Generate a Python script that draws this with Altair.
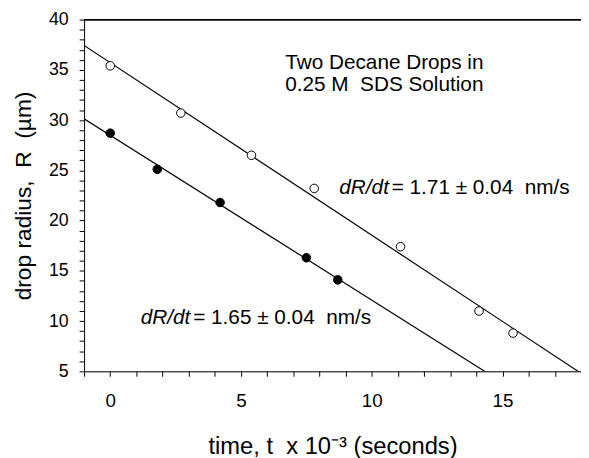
import altair as alt
import pandas as pd

# --- data ---
t_open = [0.0, 2.7, 5.4, 7.8, 11.1, 14.1, 15.4]
r_open = [35.4, 30.7, 26.5, 23.2, 17.4, 11.0, 8.8]
t_filled = [0.0, 1.8, 4.2, 7.5, 8.7]
r_filled = [28.7, 25.1, 21.8, 16.3, 14.1]

x_ticks = list(range(-1, 19))
y_ticks = list(range(5, 41))

NB = "\u00a0"
slope_t = [8.76, 1.17]
slope_r = [23.2, 10.3]
slope_italic = ["dR/dt", "dR/dt"]
slope_rest = ["= 1.71 ± 0.04 " + NB + "nm/s", "= 1.65 ± 0.04 " + NB + "nm/s"]

title_t = [6.69, 6.69]
title_r = [35.67, 33.5]
title_lines = ["Two Decane Drops in", "0.25 M " + NB + "SDS Solution"]

FONT = "Liberation Sans"

df = pd.DataFrame({
    "t": t_open + t_filled,
    "R": r_open + r_filled,
    "drop": ["open"] * len(t_open) + ["filled"] * len(t_filled),
})
ann = pd.DataFrame({"t": slope_t, "R": slope_r, "it": slope_italic, "rest": slope_rest})
ttl = pd.DataFrame({"t": title_t, "R": title_r, "txt": title_lines})

xscale = alt.Scale(domain=[-1, 18], nice=False, zero=False)
yscale = alt.Scale(domain=[5, 40], nice=False, zero=False)

xaxis = alt.Axis(
    values=x_ticks, tickCount=500, format="d",
    labelExpr="datum.value % 5 === 0 ? datum.label : ''",
    labelOverlap=False, labelFlush=False,
    title="time, t " + NB + "x 10⁻³ (seconds)",
    titleFontSize=24, titleFontWeight="normal", titleFont=FONT, titleColor="black",
    titlePadding=24,
    labelFontSize=19, labelFont=FONT, labelColor="black", labelPadding=16,
    tickSize=5, tickColor="black", domainColor="black", grid=False,
)
yaxis = alt.Axis(
    values=y_ticks, tickCount=500, format="d",
    labelExpr="datum.value % 5 === 0 ? datum.label : ''",
    labelOverlap=False, labelFlush=False,
    title="drop radius, " + NB + "R " + NB + "(µm)",
    titleFontSize=23, titleFontWeight="normal", titleFont=FONT, titleColor="black",
    titlePadding=13,
    labelFontSize=18, labelFont=FONT, labelColor="black", labelPadding=11,
    tickSize=5, tickColor="black", domainColor="black", grid=False,
)

X = alt.X("t:Q", scale=xscale, axis=xaxis)
Y = alt.Y("R:Q", scale=yscale, axis=yaxis)

base = alt.Chart(df)

lines = base.transform_regression(
    "t", "R", groupby=["drop"], extent=[-1, 18]
).mark_line(clip=True, color="black", strokeWidth=1.2).encode(x=X, y=Y, detail="drop:N")

points = base.mark_point(
    shape="circle", filled=True, size=75, stroke="black", strokeWidth=1, opacity=1
).encode(
    x=X, y=Y,
    fill=alt.Fill("drop:N", scale=alt.Scale(domain=["open", "filled"], range=["white", "black"]), legend=None),
)

top = alt.Chart(df).mark_rule(color="black", strokeWidth=1).encode(
    x=alt.datum(-1, scale=xscale), x2=alt.datum(18), y=alt.datum(40, scale=yscale)
)

it_text = alt.Chart(ann).mark_text(
    align="left", baseline="middle", fontStyle="italic", fontSize=21, font=FONT, color="black"
).encode(x=X, y=Y, text="it:N")
rest_text = alt.Chart(ann).mark_text(
    align="left", baseline="middle", fontSize=21, font=FONT, color="black", dx=53
).encode(x=X, y=Y, text="rest:N")

title_text = alt.Chart(ttl).mark_text(
    align="left", baseline="middle", fontSize=21, font=FONT, color="black"
).encode(x=X, y=Y, text="txt:N")

chart = alt.layer(lines, points, top, it_text, rest_text, title_text).properties(
    width=503, height=356,
    padding={"left": 77, "top": 9, "right": 0, "bottom": 85},
    autosize=alt.AutoSizeParams(type="none"),
).configure_view(stroke=None).configure(background="white")

chart.save("out.html", embed_options={"renderer": "svg", "actions": False})
